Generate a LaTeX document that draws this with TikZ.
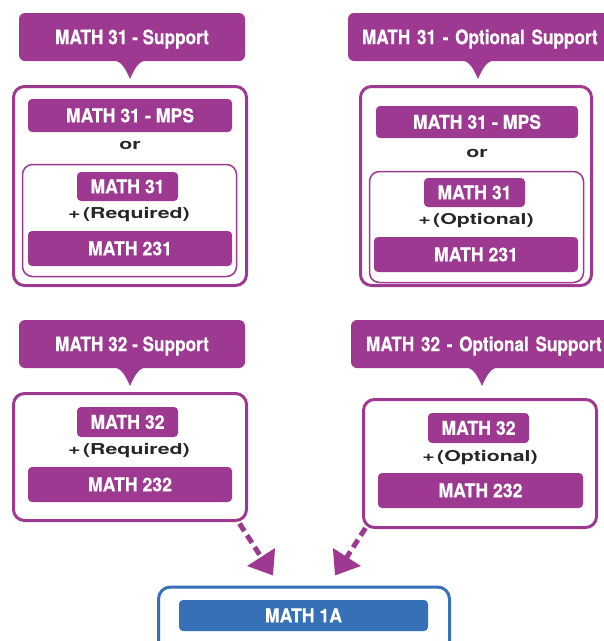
\documentclass[tikz,border=0pt]{standalone}
\usepackage{fontspec}
\usetikzlibrary{arrows.meta,calc}
\newfontfamily\hdfont{texgyreheros-bold}[Extension=.otf,FakeStretch=0.86,FakeBold=0.4]
\newfontfamily\brfont{texgyreheros-bold}[Extension=.otf,FakeStretch=0.93,FakeBold=0.4]
\newfontfamily\wdfont{texgyreheros-bold}[Extension=.otf,FakeStretch=1.42]
\definecolor{mpurple}{RGB}{158,57,145}
\definecolor{mblue}{RGB}{54,112,183}
\begin{document}
\begin{tikzpicture}[x=1pt,y=-1pt,
  title/.style={fill=mpurple,rounded corners=6pt,text=white,inner sep=0pt,
    font=\hdfont\fontsize{20}{22}\selectfont,text height=14.4pt,text depth=0pt},
  bar/.style={fill=mpurple,rounded corners=4pt,text=white,inner sep=0pt,
    font=\brfont\fontsize{19}{21}\selectfont,text height=13.6pt,text depth=0pt},
  outer/.style={draw=mpurple,line width=3pt,rounded corners=11pt,inner sep=0pt},
  inner/.style={draw=mpurple,line width=1.5pt,rounded corners=10pt,inner sep=0pt},
  lbl/.style={inner sep=0pt,text=black!85,font=\wdfont\fontsize{15}{17}\selectfont},
  arr/.style={draw=mpurple,line width=5pt,dash pattern=on 9pt off 5pt,
    -{Triangle[length=22pt,width=32pt]}}]
\useasboundingbox (0,0) rectangle (604,641);
\clip (0,0) rectangle (604,641);

% ---------- top left ----------
\node[title,minimum width=226pt,minimum height=48pt] (t1) at (132,37) {MATH 31 - Support};
\fill[mpurple] (113,60) .. controls (122,61) and (126,70) .. (130,79) .. controls (134,70) and (138,61) .. (147,60) -- cycle;
\node[outer,minimum width=233pt,minimum height=199pt] (o1) at (130,186) {};
\node[bar,minimum width=204pt,minimum height=33pt] (m1) at (130,115.5) {MATH 31 - MPS};
\node[lbl] (or1) at (130,145) {or};
\node[inner,minimum width=214pt,minimum height=112pt] (i1) at (129.5,220.5) {};
\node[bar,minimum width=101pt,minimum height=29pt] (a1) at (127.5,186.5) {MATH 31};
\node[lbl] (r1) at (129,215) {+\,(Required)};
\node[bar,minimum width=204pt,minimum height=35pt] (b1) at (130,248.5) {MATH 231};

% ---------- top right ----------
\node[title,minimum width=266pt,minimum height=48pt,text width=266pt,align=left] (t2) at (481,37) {\hspace{14pt}MATH 31 - Optional Support};
\fill[mpurple] (461,60) .. controls (470,61) and (474,70) .. (478,79) .. controls (482,70) and (486,61) .. (495,60) -- cycle;
\node[outer,minimum width=231pt,minimum height=199pt] (o2) at (476,186) {};
\node[bar,minimum width=202pt,minimum height=32pt] (m2) at (477,122) {MATH 31 - MPS};
\node[lbl] (or2) at (477,153) {or};
\node[inner,minimum width=214pt,minimum height=111pt] (i2) at (476.5,227) {};
\node[bar,minimum width=101pt,minimum height=29pt] (a2) at (474.5,192.5) {MATH 31};
\node[lbl] (r2) at (476,221) {+\,(Optional)};
\node[bar,minimum width=204pt,minimum height=35pt] (b2) at (476,254.5) {MATH 231};

% ---------- middle left ----------
\node[title,minimum width=226pt,minimum height=48pt] (t3) at (132,344) {MATH 32 - Support};
\fill[mpurple] (113,367) .. controls (122,368) and (126,377) .. (130,386) .. controls (134,377) and (138,368) .. (147,367) -- cycle;
\node[outer,minimum width=233pt,minimum height=127pt] (o3) at (130,457) {};
\node[bar,minimum width=101pt,minimum height=30pt] (a3) at (127.5,422) {MATH 32};
\node[lbl] (r3) at (129,451) {+\,(Required)};
\node[bar,minimum width=204pt,minimum height=35pt] (b3) at (130,484.5) {MATH 232};

% ---------- middle right ----------
\node[title,minimum width=263pt,minimum height=48pt,text width=263pt,align=left] (t4) at (482.5,344) {\hspace{15pt}MATH 32 - Optional Support};
\fill[mpurple] (465,367) .. controls (474,368) and (478,377) .. (482,386) .. controls (486,377) and (490,368) .. (499,367) -- cycle;
\node[outer,minimum width=233pt,minimum height=128pt] (o4) at (480,463.5) {};
\node[bar,minimum width=101pt,minimum height=30pt] (a4) at (478.5,428) {MATH 32};
\node[lbl] (r4) at (480,458) {+\,(Optional)};
\node[bar,minimum width=205pt,minimum height=35pt] (b4) at (480.5,490.5) {MATH 232};

% ---------- bottom ----------
\node[draw=mblue,line width=3pt,rounded corners=12pt,inner sep=0pt,minimum width=291pt,minimum height=80pt] (bb) at (304,627) {};
\node[bar,fill=mblue,minimum width=249pt,minimum height=31pt] (m5) at (303.5,615.5) {MATH 1A};

% ---------- arrows ----------
\draw[arr] ($(o3.south east)+(-8.5,1.5)$) -- ($(bb.north)+(-31,-10)$);
\draw[arr] ($(o4.south west)+(3.5,-1)$) -- ($(bb.north)+(31,-10)$);
\end{tikzpicture}
\end{document}
